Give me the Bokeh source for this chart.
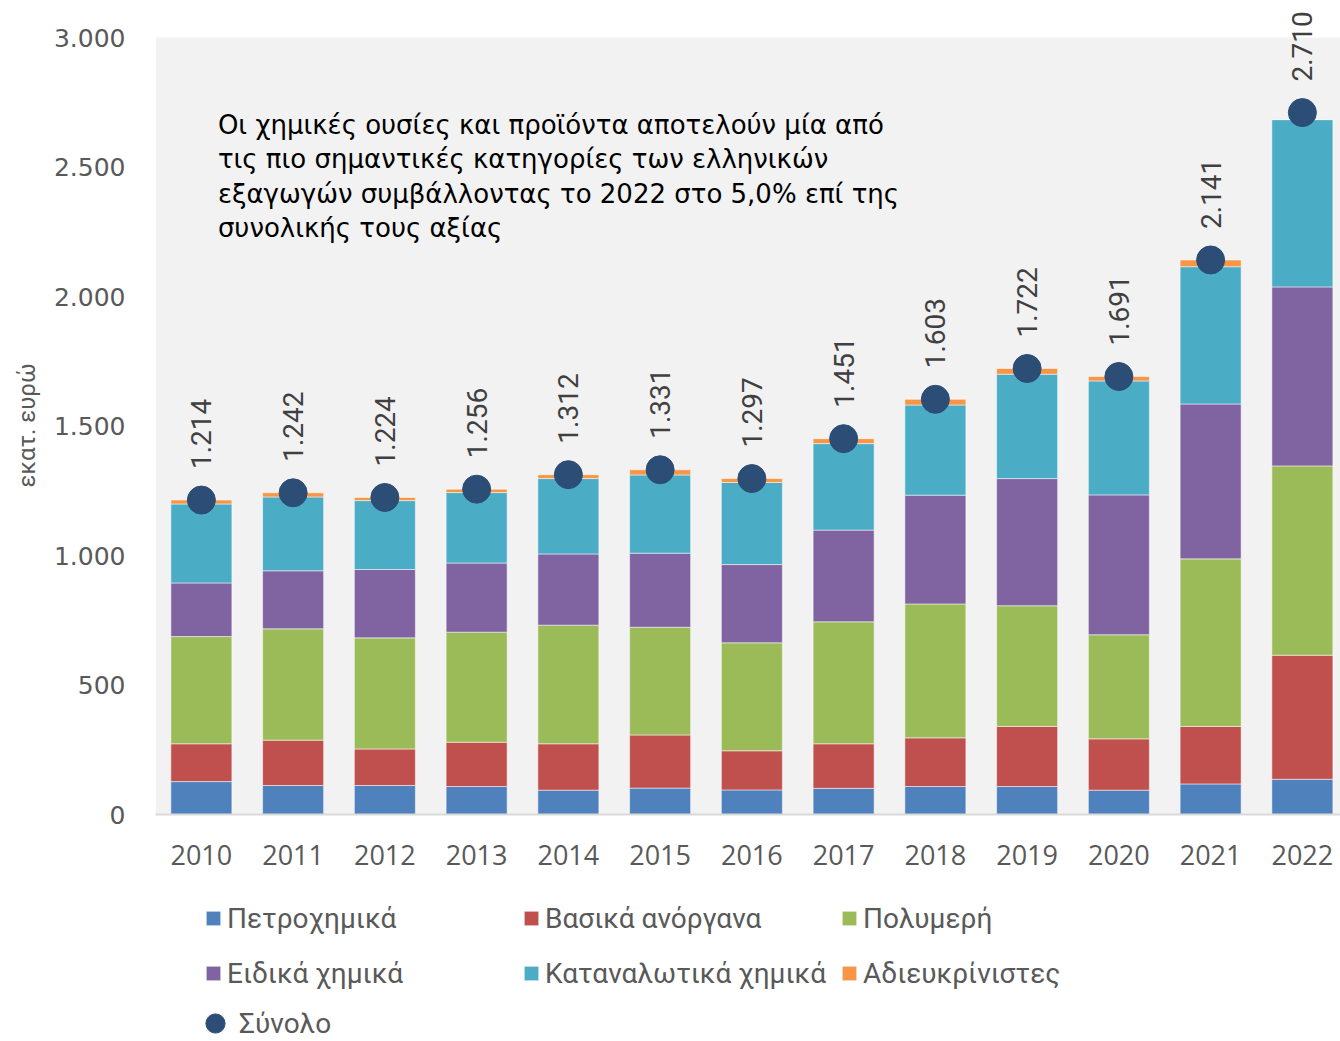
import math
from bokeh.plotting import figure
from bokeh.layouts import column
from bokeh.models import (ColumnDataSource, Range1d, FixedTicker, Legend, LegendItem,
                          LabelSet, Label, BoxAnnotation)
from bokeh.core.properties import value
from bokeh.embed import file_html
from bokeh.resources import INLINE

# ---- data (εκατ. ευρώ) ----
years = ["2010", "2011", "2012", "2013", "2014", "2015", "2016",
         "2017", "2018", "2019", "2020", "2021", "2022"]
petro = [127, 112, 112, 108, 94, 102, 95, 101, 108, 108, 94, 118, 136]
basic = [146, 175, 141, 171, 179, 205, 151, 172, 188, 232, 198, 222, 479]
poly = [414, 430, 429, 425, 458, 416, 417, 471, 517, 466, 402, 647, 731]
special = [207, 224, 264, 267, 275, 286, 302, 354, 420, 491, 540, 598, 691]
consumer = [305, 285, 266, 272, 291, 302, 317, 334, 348, 403, 440, 530, 646]
unspec = [15, 16, 12, 13, 15, 20, 15, 19, 22, 22, 17, 26, 0]
total = [1214, 1242, 1224, 1256, 1312, 1331, 1297, 1451, 1603, 1722, 1691, 2141, 2710]

series_names = ["Πετροχημικά", "Βασικά ανόργανα", "Πολυμερή",
                "Ειδικά χημικά", "Καταναλωτικά χημικά", "Αδιευκρίνιστες"]
total_name = "Σύνολο"
y_ticks = [0, 500, 1000, 1500, 2000, 2500, 3000]
note_lines = ["Οι χημικές ουσίες και προϊόντα αποτελούν μία από",
              "τις πιο σημαντικές κατηγορίες των ελληνικών",
              "εξαγωγών συμβάλλοντας το 2022 στο 5,0% επί της",
              "συνολικής τους αξίας"]
y_title = "εκατ. ευρώ"

colors = ["#4F81BD", "#C0504D", "#9BBB59", "#8064A2", "#4BACC6", "#F79646"]
dot_color = "#2C4D75"
NARROW = "Roboto"

def fmt(v):
    return f"{v:,}".replace(",", ".")

keys = ["petro", "basic", "poly", "special", "consumer", "unspec"]
src = ColumnDataSource(dict(
    x=list(range(len(years))), petro=petro, basic=basic, poly=poly,
    special=special, consumer=consumer, unspec=unspec, total=total,
    total_lbl=[fmt(v) for v in total]))

W = 1340
PX_PER_UNIT = 777 / 3000
TOP_PAD = 37
X_END = -0.5 + 1185 / 91.75

# ---------------- main chart ----------------
p = figure(width=W, height=890, output_backend="svg", toolbar_location=None,
           x_range=Range1d(-0.5, X_END),
           y_range=Range1d(0, 3000 + TOP_PAD / PX_PER_UNIT),
           min_border_left=155, min_border_right=0, min_border_top=0,
           min_border_bottom=76)
p.background_fill_color = "white"
p.border_fill_color = "white"
p.outline_line_color = None
p.xgrid.visible = False
p.ygrid.visible = False

p.add_layout(BoxAnnotation(bottom=0, top=3000, fill_color="#F2F2F2", fill_alpha=1,
                           line_color=None, level="underlay"))

bar_kw = dict(x="x", width=0.665, color=colors, source=src,
              line_color="white", line_width=1, line_alpha=0.5)
bars = p.vbar_stack(keys, **bar_kw)
p.scatter(x="x", y="total", size=28, color=dot_color, source=src)

p.add_layout(LabelSet(x="x", y="total", text="total_lbl", source=src, angle=math.pi / 2,
                      text_align="left", text_baseline="middle", y_offset=31,
                      text_font=value(NARROW), text_font_size="28px",
                      text_color="#404040"))

p.yaxis.ticker = FixedTicker(ticks=y_ticks)
p.yaxis.major_label_overrides = {t: fmt(t) for t in y_ticks}
p.yaxis.axis_line_color = None
p.yaxis.major_tick_line_color = None
p.yaxis.minor_tick_line_color = None
p.yaxis.major_label_standoff = 24
p.yaxis.major_label_text_font = "DejaVu Sans"
p.yaxis.major_label_text_font_size = "25px"
p.yaxis.major_label_text_color = "#595959"
# trailing no-break spaces centre the title on the grey 0..3000 area
p.yaxis.axis_label = y_title + "\u00a0" * 6
p.yaxis.axis_label_text_font = NARROW
p.yaxis.axis_label_text_font_size = "24px"
p.yaxis.axis_label_text_font_style = "normal"
p.yaxis.axis_label_text_color = "#595959"
p.yaxis.axis_label_standoff = 10

p.xaxis.ticker = FixedTicker(ticks=list(range(len(years))))
p.xaxis.major_label_overrides = {i: y for i, y in enumerate(years)}
p.xaxis.axis_line_color = "#D9D9D9"
p.xaxis.axis_line_width = 2
p.xaxis.major_tick_line_color = None
p.xaxis.minor_tick_line_color = None
p.xaxis.major_label_standoff = 24
p.xaxis.major_label_text_font = "Open Sans"
p.xaxis.major_label_text_font_size = "27px"
p.xaxis.major_label_text_color = "#595959"

note_y = [2663, 2530, 2397, 2264]
for line, yy in zip(note_lines, note_y):
    p.add_layout(Label(x=0.18, y=yy, text=line, text_font="DejaVu Sans",
                       text_font_size="26px", text_color="black",
                       text_baseline="alphabetic", text_align="left"))

# ---------------- legend strip ----------------
LH = 150
lp = figure(width=W, height=LH, output_backend="svg", toolbar_location=None,
            x_range=Range1d(-40, -30), y_range=Range1d(-40, -30),
            x_axis_type=None, y_axis_type=None,
            min_border_left=0, min_border_right=0, min_border_top=0, min_border_bottom=0)
lp.outline_line_color = None
lp.xgrid.visible = False
lp.ygrid.visible = False
lp.background_fill_color = "white"
lbars = lp.vbar_stack(keys, **bar_kw)          # out of view; used for legend swatches
ldots = lp.scatter(x="x", y="total", size=28, color=dot_color, source=src)

leg_common = dict(orientation="horizontal", padding=0, margin=0,
                  label_text_font=NARROW, label_text_font_size="28px",
                  label_text_color="#595959", border_line_color=None,
                  background_fill_alpha=0)
leg1 = Legend(items=[LegendItem(label=n, renderers=[r]) for n, r in zip(series_names, lbars)],
              location=(49, LH - 994 + 890), ncols=3,
              glyph_width=18, glyph_height=18, label_standoff=5,
              label_width=282, label_height=42, spacing=13, **leg_common)
leg2 = Legend(items=[LegendItem(label=total_name, renderers=[ldots])],
              location=(36, LH - 1047 + 890),
              glyph_width=48, glyph_height=48, label_standoff=0,
              label_height=30, **leg_common)
lp.add_layout(leg1)
lp.add_layout(leg2)

open("out.html", "w").write(file_html(column(p, lp, spacing=0), INLINE))
